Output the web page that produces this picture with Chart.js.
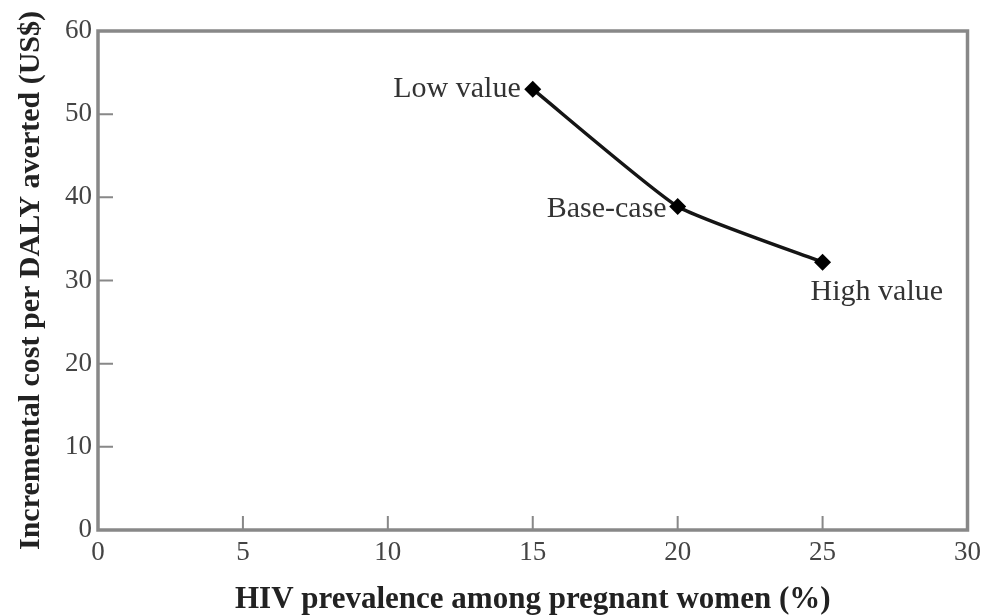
<!DOCTYPE html>
<html>
<head>
<meta charset="utf-8">
<script src="https://cdn.jsdelivr.net/npm/chart.js@4"></script>
<style>
  html, body { margin: 0; padding: 0; background: #fff; }
  #wrap { width: 988px; height: 615px; }
</style>
</head>
<body>
<div id="wrap"><canvas id="chart" width="988" height="615"></canvas></div>
<script>
// HIV prevalence vs incremental cost per DALY averted
const prevalence = [15, 20, 25];
const costPerDaly = [53, 38.9, 32.2];
const pointLabels = ['Low value', 'Base-case', 'High value'];
const xTicks = [0, 5, 10, 15, 20, 25, 30];
const yTicks = [0, 10, 20, 30, 40, 50, 60];

const serif = '"Liberation Serif", "DejaVu Serif", serif';
const axisGrey = '#888';

// frame + inward tick marks
const framePlugin = {
  id: 'frame',
  beforeDatasetsDraw(chart) {
    const { ctx, chartArea: a, scales } = chart;
    ctx.save();
    ctx.strokeStyle = axisGrey;
    ctx.lineWidth = 3.5;
    ctx.strokeRect(a.left, a.top, a.right - a.left, a.bottom - a.top);
    ctx.lineWidth = 2;
    ctx.beginPath();
    xTicks.slice(1, -1).forEach(v => {
      const x = scales.x.getPixelForValue(v);
      ctx.moveTo(x, a.bottom);
      ctx.lineTo(x, a.bottom - 14);
    });
    yTicks.slice(1, -1).forEach(v => {
      const y = scales.y.getPixelForValue(v);
      ctx.moveTo(a.left, y);
      ctx.lineTo(a.left + 15, y);
    });
    ctx.stroke();
    ctx.restore();
  }
};

// text next to each point
const labelPlugin = {
  id: 'pointText',
  afterDatasetsDraw(chart) {
    const { ctx } = chart;
    const pts = chart.getDatasetMeta(0).data;
    ctx.save();
    ctx.font = '30px ' + serif;
    ctx.fillStyle = '#333';
    ctx.textBaseline = 'middle';
    pts.forEach((p, i) => {
      if (i === 0) { ctx.textAlign = 'right'; ctx.fillText(pointLabels[i], p.x - 12, p.y); }
      else if (i === 1) { ctx.textAlign = 'right'; ctx.fillText(pointLabels[i], p.x - 11, p.y + 3); }
      else { ctx.textAlign = 'left'; ctx.fillText(pointLabels[i], p.x - 12, p.y + 30); }
    });
    ctx.restore();
  }
};

new Chart(document.getElementById('chart'), {
  type: 'scatter',
  data: {
    datasets: [{
      data: prevalence.map((x, i) => ({ x, y: costPerDaly[i] })),
      showLine: true,
      tension: 0.15,
      borderColor: '#151515',
      borderWidth: 3.5,
      backgroundColor: '#000',
      pointStyle: 'rectRot',
      pointRadius: 8.5,
      pointBorderWidth: 0
    }]
  },
  options: {
    responsive: false,
    animation: false,
    layout: { padding: { top: 31, right: 20, left: 0, bottom: 0 } },
    plugins: { legend: { display: false }, tooltip: { enabled: false } },
    scales: {
      x: {
        type: 'linear', min: 0, max: 30,
        afterBuildTicks: s => { s.ticks = xTicks.map(v => ({ value: v })); },
        afterFit: s => { s.height = 85; },
        grid: { display: false, drawTicks: false },
        border: { display: false },
        ticks: { color: '#444', font: { family: serif, size: 27 }, padding: 7, maxRotation: 0 },
        title: {
          display: true, text: 'HIV prevalence among pregnant women (%)',
          color: '#222', font: { family: serif, size: 31, weight: 'bold', lineHeight: 1.0 },
          padding: { top: 0, bottom: 0 }
        }
      },
      y: {
        type: 'linear', min: 0, max: 60,
        afterBuildTicks: s => { s.ticks = yTicks.map(v => ({ value: v })); },
        afterFit: s => { s.width = 98; },
        grid: { display: false, drawTicks: false },
        border: { display: false },
        ticks: { color: '#444', font: { family: serif, size: 27 }, padding: 6 },
        title: {
          display: true, text: 'Incremental cost per DALY averted (US$)',
          color: '#222', font: { family: serif, size: 30, weight: 'bold' },
          padding: { top: 13, bottom: 0 }
        }
      }
    }
  },
  plugins: [framePlugin, labelPlugin]
});
</script>
</body>
</html>
